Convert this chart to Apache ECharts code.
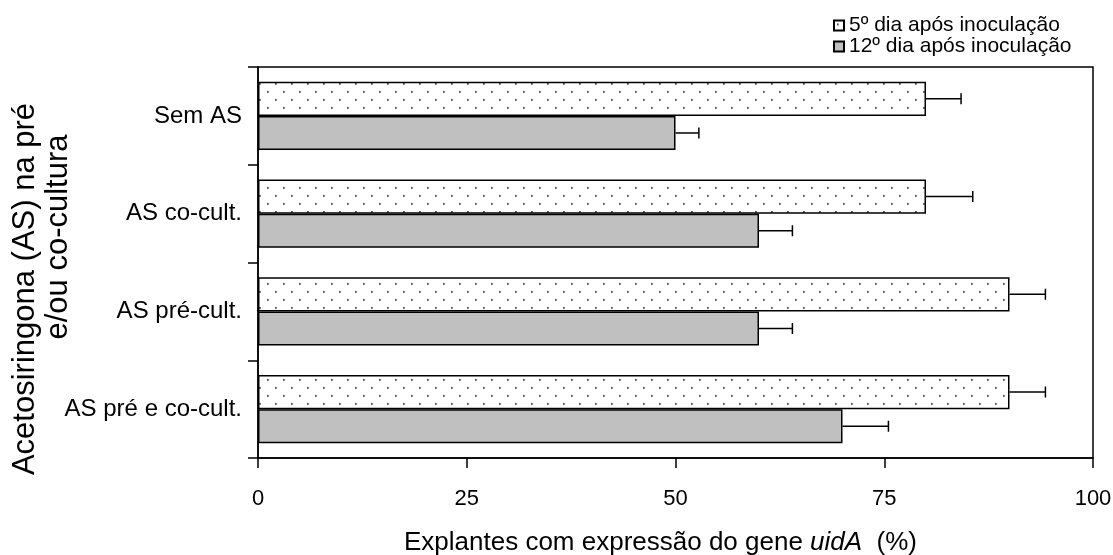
<!DOCTYPE html>
<html>
<head>
<meta charset="utf-8">
<script src="https://cdn.jsdelivr.net/npm/echarts@6/dist/echarts.min.js"></script>
<style>
  html, body { margin: 0; padding: 0; background: #fff; }
  #main { width: 1113px; height: 555px; }
</style>
</head>
<body>
<div id="main"></div>
<script>
// dados
const categorias = ['Sem AS', 'AS co-cult.', 'AS pré-cult.', 'AS pré e co-cult.'];
const dia5 = [80, 80, 90, 90];
const dia5Erro = [4.2, 5.6, 4.3, 4.3];
const dia12 = [50, 60, 60, 70];
const dia12Erro = [2.8, 4.0, 4.0, 5.5];
const xTicks = [0, 25, 50, 75, 100];

const fonte = 'Liberation Sans, Arial, sans-serif';

// padrão pontilhado
const makeDots = () => {
  const c = document.createElement('canvas');
  c.width = 16;
  c.height = 16;
  const ctx = c.getContext('2d');
  ctx.fillStyle = '#fff';
  ctx.fillRect(0, 0, 16, 16);
  ctx.fillStyle = '#555';
  ctx.fillRect(3, 3, 1.8, 1.8);
  ctx.fillRect(11, 11, 1.8, 1.8);
  return c;
};
const dots = { image: makeDots(), repeat: 'repeat' };

const myChart = echarts.init(document.getElementById('main'));

// barra de erro (offset = posição dentro da banda)
const errorSeries = (vals, errs, offset) => ({
  type: 'custom',
  silent: true,
  z: 5,
  data: vals.map((v, i) => [v, i, v + errs[i]]),
  renderItem: (params, api) => {
    const i = api.value(1);
    const p0 = api.coord([api.value(0), i]);
    const p1 = api.coord([api.value(2), i]);
    const band = api.size([0, 1])[1];
    const y = p0[1] + offset * band;
    return {
      type: 'group',
      children: [
        { type: 'line', shape: { x1: p0[0], y1: y, x2: p1[0], y2: y }, style: { stroke: '#000', lineWidth: 1.5 } },
        { type: 'line', shape: { x1: p1[0], y1: y - 5.5, x2: p1[0], y2: y + 5.5 }, style: { stroke: '#000', lineWidth: 1.5 } },
      ],
    };
  },
});

const option = {
  animation: false,
  grid: {
    left: 258,
    right: 20,
    top: 67,
    bottom: 97,
    containLabel: false,
    outerBoundsMode: 'none',
    show: true,
    borderColor: '#000',
    borderWidth: 1.5,
  },
  legend: {
    orient: 'vertical',
    left: 828,
    top: 10,
    icon: 'rect',
    itemWidth: 10,
    itemHeight: 10,
    itemGap: 0,
    textStyle: { fontFamily: fonte, fontSize: 21, color: '#000' },
    data: ['5º dia após inoculação', '12º dia após inoculação'],
  },
  graphic: [
    {
      type: 'text',
      x: 25,
      y: 289,
      rotation: Math.PI / 2,
      style: { text: 'Acetosiringona (AS) na pré', font: '31px ' + fonte, fill: '#000', align: 'center', verticalAlign: 'middle' },
    },
    {
      type: 'text',
      x: 58,
      y: 237,
      rotation: Math.PI / 2,
      style: { text: 'e/ou co-cultura', font: '31px ' + fonte, fill: '#000', align: 'center', verticalAlign: 'middle' },
    },
  ],
  xAxis: {
    type: 'value',
    min: 0,
    max: 100,
    interval: 25,
    splitLine: { show: false },
    axisLine: { show: true, lineStyle: { color: '#000', width: 1.5 } },
    axisTick: { show: true, length: 10, lineStyle: { color: '#000', width: 1.5 } },
    axisLabel: {
      margin: 30,
      fontFamily: fonte,
      fontSize: 22,
      color: '#000',
      formatter: (v) => (xTicks.includes(v) ? String(v) : ''),
    },
    name: '{n|Explantes com expressão do gene }{i|uidA}{n|  (%)}',
    nameLocation: 'middle',
    nameGap: 72,
    nameTextStyle: {
      padding: [0, 30, 0, 0],
      rich: {
        n: { fontFamily: fonte, fontSize: 26, color: '#000' },
        i: { fontFamily: fonte, fontSize: 26, color: '#000', fontStyle: 'italic' },
      },
    },
  },
  yAxis: {
    type: 'category',
    inverse: true,
    data: categorias,
    axisLine: { show: true, lineStyle: { color: '#000', width: 1.5 } },
    axisTick: { show: true, length: 10, lineStyle: { color: '#000', width: 1.5 } },
    axisLabel: { margin: 16, fontFamily: fonte, fontSize: 24, color: '#000' },
  },
  series: [
    {
      name: '5º dia após inoculação',
      type: 'bar',
      data: dia5,
      barGap: '0%',
      barCategoryGap: '30%',
      itemStyle: { color: dots, borderColor: '#000', borderWidth: 1.5 },
    },
    {
      name: '12º dia após inoculação',
      type: 'bar',
      data: dia12,
      itemStyle: { color: '#c0c0c0', borderColor: '#000', borderWidth: 1.5 },
    },
    errorSeries(dia5, dia5Erro, -0.175),
    errorSeries(dia12, dia12Erro, 0.175),
  ],
};

option && myChart.setOption(option);
</script>
</body>
</html>
